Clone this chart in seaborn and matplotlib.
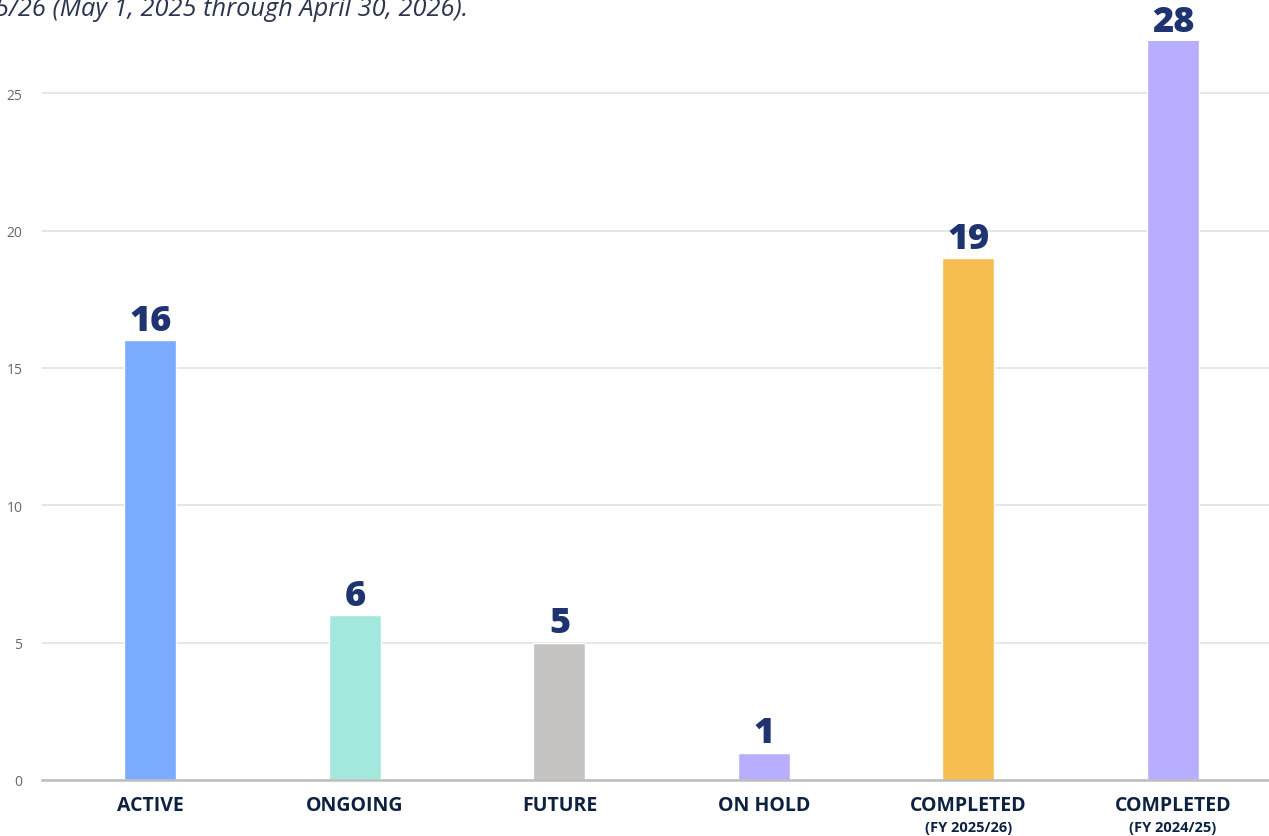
import matplotlib
matplotlib.use("Agg")
import matplotlib.pyplot as plt
import seaborn as sns
import pandas as pd

categories = ["ACTIVE", "ONGOING", "FUTURE", "ON HOLD", "COMPLETED", "COMPLETED "]
sublabels = ["", "", "", "", "(FY 2025/26)", "(FY 2024/25)"]
values = [16, 6, 5, 1, 19, 28]
colors = ["#7aabff", "#a3e8dd", "#c6c3c3", "#b8aeff", "#f6bd51", "#b8aeff"]
yticks = [0, 5, 10, 15, 20, 25]
title = "2025/26 (May 1, 2025 through April 30, 2026)."

sns.set_theme(style="white")
plt.rcParams['font.family'] = ['Open Sans', 'DejaVu Sans']

df = pd.DataFrame({"cat": categories, "val": values})

fig = plt.figure(figsize=(12.69, 8.37), dpi=100)
ax = fig.add_axes([42/1269, 1 - 781/837, 1 - 42/1269, (781 - 42)/837])

sns.barplot(data=df, x="cat", y="val", hue="cat", palette=colors, legend=False,
            width=0.255, ax=ax, saturation=1, zorder=3)

ymax = 26.9
ax.set_ylim(0, ymax)
ax.set_xlim(-0.53, 5.47)
ax.set_yticks(yticks)
ax.set_yticklabels([str(t) for t in yticks], color="#666666", fontsize=10)
ax.yaxis.grid(True, color="#e4e4e4", linewidth=1.3, zorder=0)
ax.set_axisbelow(True)
for s in ["top", "right", "left"]:
    ax.spines[s].set_visible(False)
ax.spines["bottom"].set_color("#bdbdbd")
ax.spines["bottom"].set_linewidth(1.8)
ax.spines["bottom"].set_zorder(4)
ax.tick_params(axis="y", length=0, pad=14)
ax.tick_params(axis="x", length=0, pad=11)
ax.set_xlabel("")
ax.set_ylabel("")
ax.set_xticks(range(len(categories)))
ax.set_xticklabels([c.strip() for c in categories], fontsize=14, fontweight="bold", color="#0d2240")

for i, (v, sub) in enumerate(zip(values, sublabels)):
    ax.annotate(str(v), (i, min(v, ymax)), xytext=(0, 1), textcoords="offset points",
                ha="center", va="bottom", fontsize=26, fontweight="heavy",
                color="#1f3370", annotation_clip=False)
    if sub:
        ax.annotate(sub, (i, 0), xytext=(0, -34), textcoords="offset points",
                    ha="center", va="center", fontsize=10.5, fontweight="bold",
                    color="#0d2240", annotation_clip=False)

fig.text(468/1269, 1 - 16/837, title, ha="right", va="baseline", fontsize=18.3,
         style="italic", color="#2b3550")

fig.savefig("out.png", dpi=100)
